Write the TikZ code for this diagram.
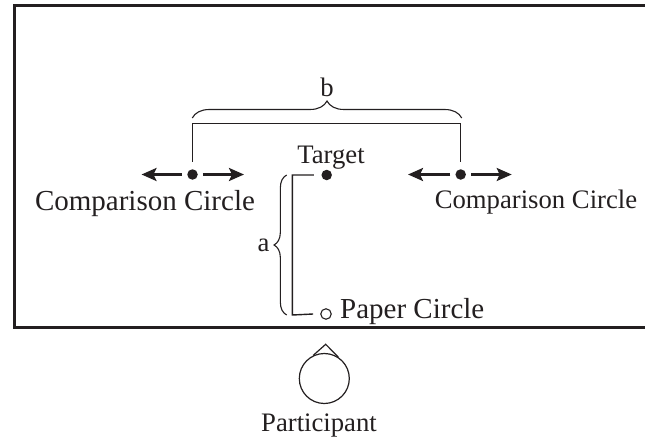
\documentclass[tikz,border=0pt]{standalone}
\usepackage{fontspec}
\setmainfont{Liberation Serif}
\usetikzlibrary{arrows.meta,decorations.pathreplacing,calc}
\definecolor{ink}{HTML}{231F20}
\tikzset{
  dot/.style={circle,fill=ink,draw=none,inner sep=0pt,minimum size=10.5pt},
  hollow/.style={circle,draw=ink,line width=1.1pt,fill=white,inner sep=0pt,minimum size=10.5pt},
  bigtxt/.style={text=ink,inner sep=0pt,font=\fontsize{29}{34}\selectfont},
  midtxt/.style={text=ink,inner sep=0pt,font=\fontsize{26.7}{31}\selectfont},
  move/.style={draw=ink,line width=2.6pt,-{Stealth[length=15pt,width=13pt,inset=3pt]}},
  thinline/.style={draw=ink,line width=1.4pt},
  brc/.style={draw=ink,line width=1.1pt,decorate,decoration={brace,amplitude=#1}}
}
\begin{document}
\begin{tikzpicture}[x=1pt,y=-1pt]
\useasboundingbox (0,0) rectangle (645,441);
% table
\draw[ink,line width=3pt] (650,6) -- (14,6) -- (14,327) -- (650,327);
% dots
\node[dot] (L) at (192.5,174.5) {};
\node[dot] (T) at (326.7,175) {};
\node[dot] (R) at (460.7,174.5) {};
\node[hollow] (P) at (326,314) {};
% arrows
\coordinate (La) at (141.5,174.5);
\coordinate (Lb) at (244,174.5);
\coordinate (Ra) at (408,174.5);
\coordinate (Rb) at (511.7,174.5);
\draw[move] ($(L.west)+(-5,0)$) -- (La);
\draw[move] ($(L.east)+(5,0)$) -- (Lb);
\draw[move] ($(R.west)+(-5,0)$) -- (Ra);
\draw[move] ($(R.east)+(5,0)$) -- (Rb);
% b bracket
\coordinate (Lt) at ($(L.north)+(0,-7.5)$);
\coordinate (Rt) at ($(R.north)+(0,-7.5)$);
\draw[thinline] (Lt) -- (192.5,123.3) -- (460.7,123.3) -- (Rt);
\draw[brc=17pt] (192.3,118) -- (461.7,118);
\node[midtxt,anchor=base] (b) at (327,97) {b};
% a bracket
\coordinate (Tw) at ($(T.west)+(-7.5,0)$);
\coordinate (Pw) at ($(P.west)+(-7,0)$);
\draw[thinline] (Tw) -- (292.3,175) -- (292.3,315) -- (Pw);
\draw[brc=12.7pt] (286.7,315) -- (286.7,175);
\node[midtxt,anchor=base] (a) at (263.5,251.7) {a};
% labels
\node[midtxt,anchor=base] (tl) at (331,163) {Target};
\node[bigtxt,anchor=base] (lcc) at (145,210.7) {Comparison Circle};
\node[midtxt,anchor=base] (rcc) at (536,208) {Comparison Circle};
\node[bigtxt,anchor=base west] (pcl) at (340,318) {Paper Circle};
% participant
\node[circle,draw=ink,line width=1.2pt,inner sep=0pt,minimum size=50pt] (head) at (324.3,378.5) {};
\coordinate (nose) at (325.7,344.3);
\draw[ink,line width=1.2pt] (head.116) -- (nose) -- (head.57);
\node[midtxt,anchor=base] (part) at (319,431.7) {Participant};
\end{tikzpicture}
\end{document}
